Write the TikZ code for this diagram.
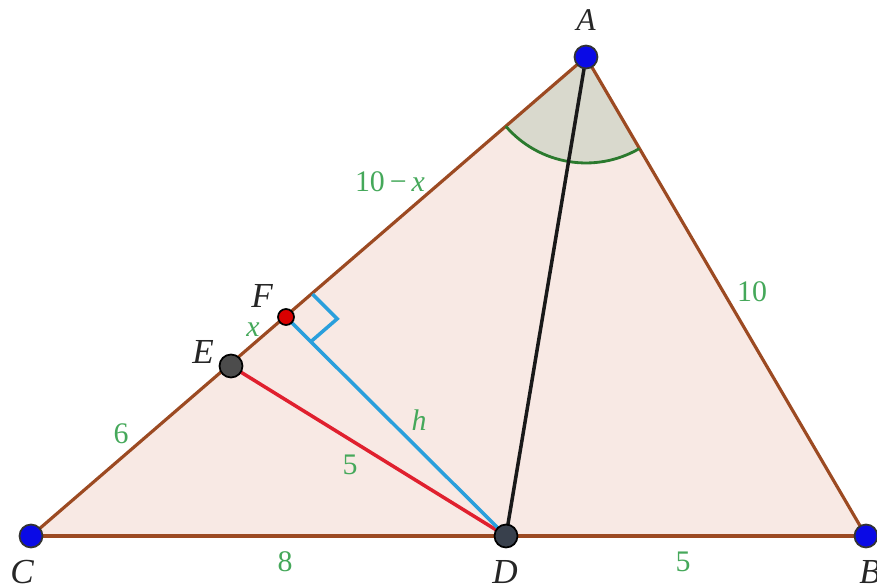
\documentclass[tikz,border=0pt]{standalone}
\usepackage{fontspec}
\setmainfont{Liberation Serif}
\usepackage{tikz}
\usetikzlibrary{calc}
\definecolor{trifill}{HTML}{F8E9E4}
\definecolor{triedge}{HTML}{9C4A22}
\definecolor{angfill}{HTML}{D9D9CD}
\definecolor{angline}{HTML}{2B7A2E}
\definecolor{lblgreen}{HTML}{45A85A}
\definecolor{segred}{HTML}{E0202E}
\definecolor{segblue}{HTML}{2A9FDC}
\definecolor{ptblue}{HTML}{0A0AE6}
\definecolor{ptdark}{HTML}{38404C}

\begin{document}
\begin{tikzpicture}[
  x=0.02cm,y=0.02cm,
  edge/.style={draw=triedge,line width=1.8pt},
  seg/.style={line width=2pt},
  vtx/.style={circle,fill=ptblue,draw=black!80,line width=1pt,
    minimum size=0.46cm,inner sep=0pt},
  ptname/.style={font=\fontsize{20}{22}\selectfont\itshape,text=black!85},
  len/.style={font=\fontsize{17}{20}\selectfont,text=lblgreen}
]
\useasboundingbox (0,0) rectangle (877,586);
\coordinate (A) at (586,529);
\coordinate (B) at (866,50);
\coordinate (C) at (31,50);
\coordinate (D) at (506,50);
\coordinate (E) at (231,220);
\coordinate (F) at (286,269);
\fill[trifill] (A) -- (B) -- (C) -- cycle;
\fill[angfill] (A) -- ($(A)!2.12cm!(C)$)
  arc[start angle=220.8,end angle=300.3,radius=2.12cm] -- cycle;
\draw[edge] (A) -- (B);
\draw[edge] (B) -- (C);
\draw[edge] (C) -- (A);
\draw[angline,line width=1.6pt] ($(A)!2.12cm!(C)$)
  arc[start angle=220.8,end angle=300.3,radius=2.12cm];
\draw[seg,black!90] (A) -- (D);
\draw[seg,segred] (E) -- (D);
\draw[seg,segblue] (F) -- (D);
\coordinate (Fa) at ($(F)!0.7cm!(A)$);
\coordinate (Fd) at ($(F)!0.7cm!(D)$);
\draw[seg,segblue] (Fa) -- ($(Fa)+(Fd)-(F)$) -- (Fd);
\node[vtx] (dA) at (A) {};
\node[vtx] (dB) at (B) {};
\node[vtx] (dC) at (C) {};
\node[vtx,fill=ptdark,draw=black] (dD) at (D) {};
\node[vtx,fill=black!70,draw=black] (dE) at (E) {};
\node[vtx,fill=red!85!black,draw=black,minimum size=0.32cm] (dF) at (F) {};
\node[ptname,font=\fontsize{18}{20}\selectfont\itshape] (lA) at (586,566) {A};
\node[ptname] (lB) at (870,14) {B};
\node[ptname] (lC) at (22,14) {C};
\node[ptname] (lD) at (505,14) {D};
\node[ptname] (lE) at (203,234) {E};
\node[ptname] (lF) at (262,290) {F};
\node[len] (lAC) at (390,404) {10\,−\,\textit{x}};
\node[len] (lAB) at (752,294) {10};
\node[len] (lEF) at (253,256) {\textit{x}};
\node[len] (lCE) at (121,152) {6};
\node[len] (lED) at (350,121) {5};
\node[len] (lFD) at (419,166) {\textit{h}};
\node[len] (lCD) at (285,24) {8};
\node[len] (lDB) at (683,24) {5};
\end{tikzpicture}
\end{document}
